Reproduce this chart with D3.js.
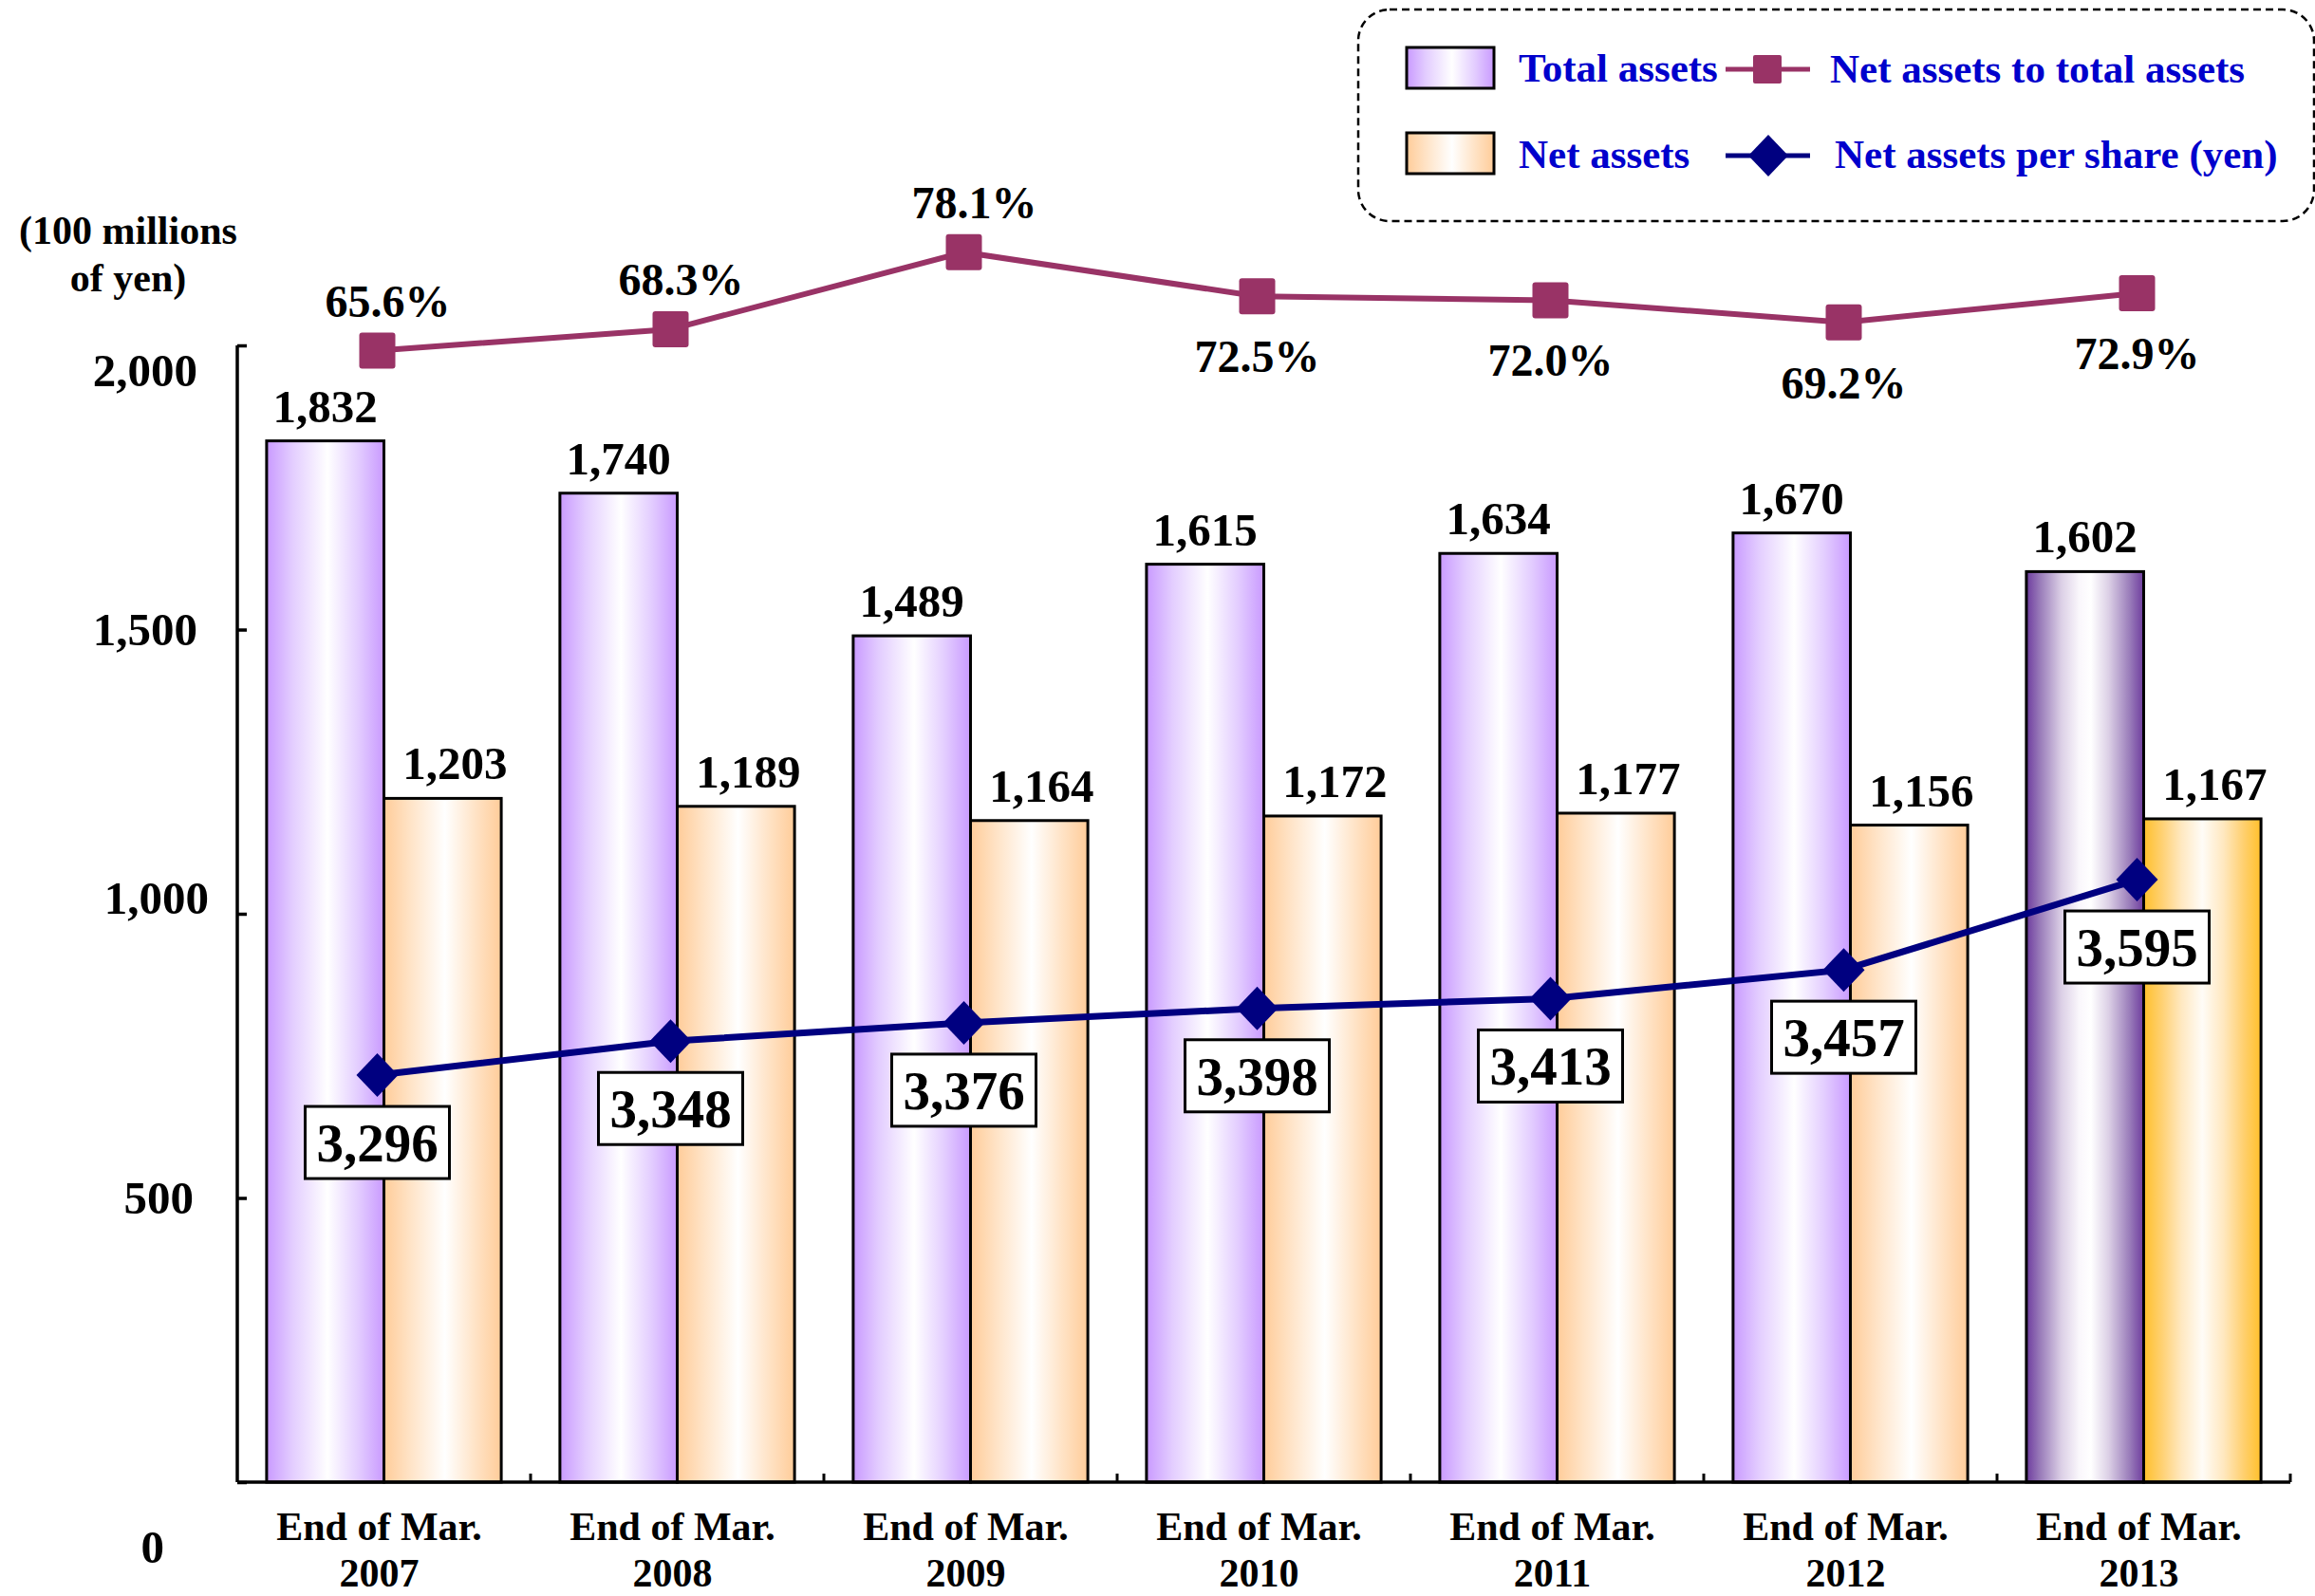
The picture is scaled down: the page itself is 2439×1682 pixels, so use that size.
<!DOCTYPE html>
<html>
<head>
<meta charset="utf-8">
<script src="https://cdn.jsdelivr.net/npm/d3@7"></script>
<style>
  html, body { margin: 0; padding: 0; background: #ffffff; }
  svg { display: block; font-family: "Liberation Serif", "Times New Roman", serif; font-weight: bold; }
</style>
</head>
<body>
<svg id="chart" width="2439" height="1682"></svg>
<script>
// Fiscal year-end points
const years = ["2007", "2008", "2009", "2010", "2011", "2012", "2013"];
const categoryPrefix = "End of Mar.";

// Total assets and net assets (100 millions of yen)
const totalAssets = [1832, 1740, 1489, 1615, 1634, 1670, 1602];
const netAssets = [1203, 1189, 1164, 1172, 1177, 1156, 1167];

// Net assets to total assets (%)
const equityRatio = [65.6, 68.3, 78.1, 72.5, 72.0, 69.2, 72.9];

// Net assets per share (yen)
const perShare = [3296, 3348, 3376, 3398, 3413, 3457, 3595];

// Left axis ticks
const yTicks = [0, 500, 1000, 1500, 2000];

const svg = d3.select("#chart");
const W = 2439, H = 1682;
svg.append("rect").attr("width", W).attr("height", H).attr("fill", "#fff");

// ---- gradients ----
const defs = svg.append("defs");
function gradient(id, stops) {
  const g = defs.append("linearGradient").attr("id", id)
    .attr("x1", 0).attr("x2", 1).attr("y1", 0).attr("y2", 0);
  stops.forEach(([o, c]) => g.append("stop").attr("offset", o).attr("stop-color", c));
}
gradient("gPurple", [[0, "#C99AFF"], [0.22, "#E3CDFF"], [0.52, "#FFFFFF"], [0.78, "#E3CDFF"], [1, "#C99AFF"]]);
gradient("gOrange", [[0, "#FFCC99"], [0.22, "#FFE3C6"], [0.52, "#FFFFFF"], [0.78, "#FFE3C6"], [1, "#FFCC99"]]);
gradient("gPurpleHi", [[0, "#6E3C9E"], [0.12, "#9A7DBA"], [0.3, "#DCD0E6"], [0.45, "#FAF7FC"], [0.55, "#FFFFFF"], [0.7, "#DCD0E6"], [0.88, "#9A7DBA"], [1, "#6E3C9E"]]);
gradient("gOrangeHi", [[0, "#FFC02A"], [0.15, "#FFD070"], [0.32, "#FFE8C0"], [0.5, "#FFFCF7"], [0.68, "#FFE8C0"], [0.85, "#FFD070"], [1, "#FFC02A"]]);

// ---- scales ----
const plotLeft = 250, plotRight = 2413, plotTop = 364, plotBottom = 1562;
const x = d3.scaleBand().domain(years).range([plotLeft, plotRight]).paddingInner(0.2).paddingOuter(0.1);
const xSeries = d3.scaleBand().domain(["total", "net"]).range([0, x.bandwidth()]);
const y = d3.scaleLinear().domain([0, 2000]).range([plotBottom, plotTop]);
const yRatio = d3.scaleLinear().domain([60, 80]).range([416, 250]);
const yShare = d3.scaleLinear().domain([3000, 4000]).range([1337, 648]);

const fmt = d3.format(",");
const lastIdx = years.length - 1;
const linePx = (i) => x(years[i]) + x.bandwidth() / 2 - 7;

// ---- bars ----
const barG = svg.append("g");
const rows = years.map((yr, i) => ({ yr, i, total: totalAssets[i], net: netAssets[i] }));
barG.selectAll("rect.total").data(rows).join("rect")
  .attr("class", "total")
  .attr("x", d => x(d.yr) + xSeries("total"))
  .attr("y", d => y(d.total))
  .attr("width", xSeries.bandwidth())
  .attr("height", d => y(0) - y(d.total))
  .attr("fill", d => d.i === lastIdx ? "url(#gPurpleHi)" : "url(#gPurple)")
  .attr("stroke", "#000").attr("stroke-width", 3);
barG.selectAll("rect.net").data(rows).join("rect")
  .attr("class", "net")
  .attr("x", d => x(d.yr) + xSeries("net"))
  .attr("y", d => y(d.net))
  .attr("width", xSeries.bandwidth())
  .attr("height", d => y(0) - y(d.net))
  .attr("fill", d => d.i === lastIdx ? "url(#gOrangeHi)" : "url(#gOrange)")
  .attr("stroke", "#000").attr("stroke-width", 3);

// bar value labels
barG.selectAll("text.totalLbl").data(rows).join("text")
  .attr("x", d => x(d.yr) + xSeries("total") + xSeries.bandwidth() / 2)
  .attr("y", d => y(d.total) - 20)
  .attr("text-anchor", "middle").attr("font-size", 49).attr("fill", "#000")
  .text(d => fmt(d.total));
barG.selectAll("text.netLbl").data(rows).join("text")
  .attr("x", d => x(d.yr) + xSeries("net") + xSeries.bandwidth() / 2 + 13)
  .attr("y", d => y(d.net) - 20)
  .attr("text-anchor", "middle").attr("font-size", 49).attr("fill", "#000")
  .text(d => fmt(d.net));

// ---- axes ----
const axisG = svg.append("g");
const yAxis = d3.axisRight(y).tickValues(yTicks).tickSize(10).tickFormat("");
const yAx = axisG.append("g").attr("transform", `translate(${plotLeft},0)`).call(yAxis);
yAx.select(".domain").attr("d", `M0,${plotTop}V${plotBottom}`).attr("stroke", "#000").attr("stroke-width", 3.5);
yAx.selectAll(".tick line").attr("stroke", "#000").attr("stroke-width", 3.5);

// tick labels, each nudged to its place beside the axis
const tickNudge = { 2000: [0, 43], 1500: [0, 16], 1000: [12, 0], 500: [-4, 16], 0: [-35, 85] };
axisG.selectAll("text.ytick").data(yTicks).join("text")
  .attr("x", v => 208 + tickNudge[v][0])
  .attr("y", v => y(v) + tickNudge[v][1])
  .attr("text-anchor", "end").attr("font-size", 49).attr("fill", "#000")
  .text(v => fmt(v));

// x axis: baseline with small inward ticks between the year groups
const step = x.step();
const boundaries = years.map(yr => x(yr) - x.paddingInner() * step / 2).concat([plotRight]);
axisG.append("line").attr("x1", plotLeft).attr("x2", plotRight)
  .attr("y1", plotBottom).attr("y2", plotBottom).attr("stroke", "#000").attr("stroke-width", 3.5);
axisG.selectAll("line.xtick").data(boundaries.slice(1)).join("line")
  .attr("x1", d => d).attr("x2", d => d)
  .attr("y1", plotBottom).attr("y2", plotBottom - 9)
  .attr("stroke", "#000").attr("stroke-width", 3);

// category labels
const catG = axisG.selectAll("text.cat").data(years).join("text")
  .attr("text-anchor", "middle").attr("font-size", 42).attr("fill", "#000");
catG.append("tspan").attr("x", d => x(d) + x.bandwidth() / 2 - 5).attr("y", 1623).text(categoryPrefix);
catG.append("tspan").attr("x", d => x(d) + x.bandwidth() / 2 - 5).attr("y", 1672).text(d => d);

// unit label
const unit = svg.append("text").attr("text-anchor", "middle").attr("font-size", 42).attr("fill", "#000");
unit.append("tspan").attr("x", 135).attr("y", 257).text("(100 millions");
unit.append("tspan").attr("x", 135).attr("y", 307).text("of yen)");

// ---- net assets to total assets line ----
const ratioG = svg.append("g");
const ratioLine = d3.line().x((d, i) => linePx(i)).y(d => yRatio(d));
ratioG.append("path").attr("d", ratioLine(equityRatio))
  .attr("fill", "none").attr("stroke", "#993366").attr("stroke-width", 6);
ratioG.selectAll("rect").data(equityRatio).join("rect")
  .attr("x", (d, i) => linePx(i) - 19).attr("y", d => yRatio(d) - 19)
  .attr("width", 38).attr("height", 38).attr("rx", 3)
  .attr("fill", "#993366");
ratioG.selectAll("text").data(equityRatio).join("text")
  .attr("x", (d, i) => linePx(i) + (i < 3 ? 11 : 0))
  .attr("y", (d, i) => yRatio(d) + (i < 3 ? -36 : 80))
  .attr("text-anchor", "middle").attr("font-size", 48).attr("fill", "#000")
  .text(d => d3.format(".1f")(d) + "%");

// ---- net assets per share line ----
const shareG = svg.append("g");
const shareLine = d3.line().x((d, i) => linePx(i)).y(d => yShare(d));
shareG.append("path").attr("d", shareLine(perShare))
  .attr("fill", "none").attr("stroke", "#000080").attr("stroke-width", 7);
shareG.selectAll("path.dia").data(perShare).join("path")
  .attr("class", "dia")
  .attr("d", (d, i) => {
    const cx = linePx(i), cy = yShare(d);
    return `M${cx},${cy - 23}L${cx + 22},${cy}L${cx},${cy + 23}L${cx - 22},${cy}Z`;
  })
  .attr("fill", "#000080");
const boxW = 152, boxH = 76;
shareG.selectAll("rect.box").data(perShare).join("rect")
  .attr("class", "box")
  .attr("x", (d, i) => linePx(i) - boxW / 2)
  .attr("y", d => yShare(d) + 71 - boxH / 2)
  .attr("width", boxW).attr("height", boxH)
  .attr("fill", "#fff").attr("stroke", "#000").attr("stroke-width", 3);
shareG.selectAll("text").data(perShare).join("text")
  .attr("x", (d, i) => linePx(i))
  .attr("y", d => yShare(d) + 71 + 20)
  .attr("text-anchor", "middle").attr("font-size", 57).attr("fill", "#000")
  .text(d => fmt(d));

// ---- legend ----
const lg = svg.append("g");
lg.append("rect").attr("x", 1431).attr("y", 10).attr("width", 1007).attr("height", 223)
  .attr("rx", 33).attr("ry", 33)
  .attr("fill", "#fff").attr("stroke", "#000").attr("stroke-width", 2.5)
  .attr("stroke-dasharray", "8 5");
const legendBlue = "#0000CC";
lg.append("rect").attr("x", 1482).attr("y", 50).attr("width", 92).attr("height", 43)
  .attr("fill", "url(#gPurple)").attr("stroke", "#000").attr("stroke-width", 3);
lg.append("rect").attr("x", 1482).attr("y", 140).attr("width", 92).attr("height", 43)
  .attr("fill", "url(#gOrange)").attr("stroke", "#000").attr("stroke-width", 3);
lg.append("text").attr("x", 1600).attr("y", 86).attr("font-size", 43).attr("fill", legendBlue).text("Total assets");
lg.append("text").attr("x", 1600).attr("y", 177).attr("font-size", 43).attr("fill", legendBlue).text("Net assets");
lg.append("line").attr("x1", 1818).attr("x2", 1907).attr("y1", 73).attr("y2", 73)
  .attr("stroke", "#993366").attr("stroke-width", 5);
lg.append("rect").attr("x", 1847).attr("y", 58).attr("width", 30).attr("height", 30).attr("rx", 2)
  .attr("fill", "#993366");
lg.append("line").attr("x1", 1818).attr("x2", 1907).attr("y1", 164).attr("y2", 164)
  .attr("stroke", "#000080").attr("stroke-width", 5);
lg.append("path").attr("d", "M1863,142L1884,164L1863,186L1842,164Z").attr("fill", "#000080");
lg.append("text").attr("x", 1928).attr("y", 87).attr("font-size", 43).attr("fill", legendBlue).text("Net assets to total assets");
lg.append("text").attr("x", 1933).attr("y", 177).attr("font-size", 43).attr("fill", legendBlue).text("Net assets per share (yen)");
</script>
</body>
</html>
